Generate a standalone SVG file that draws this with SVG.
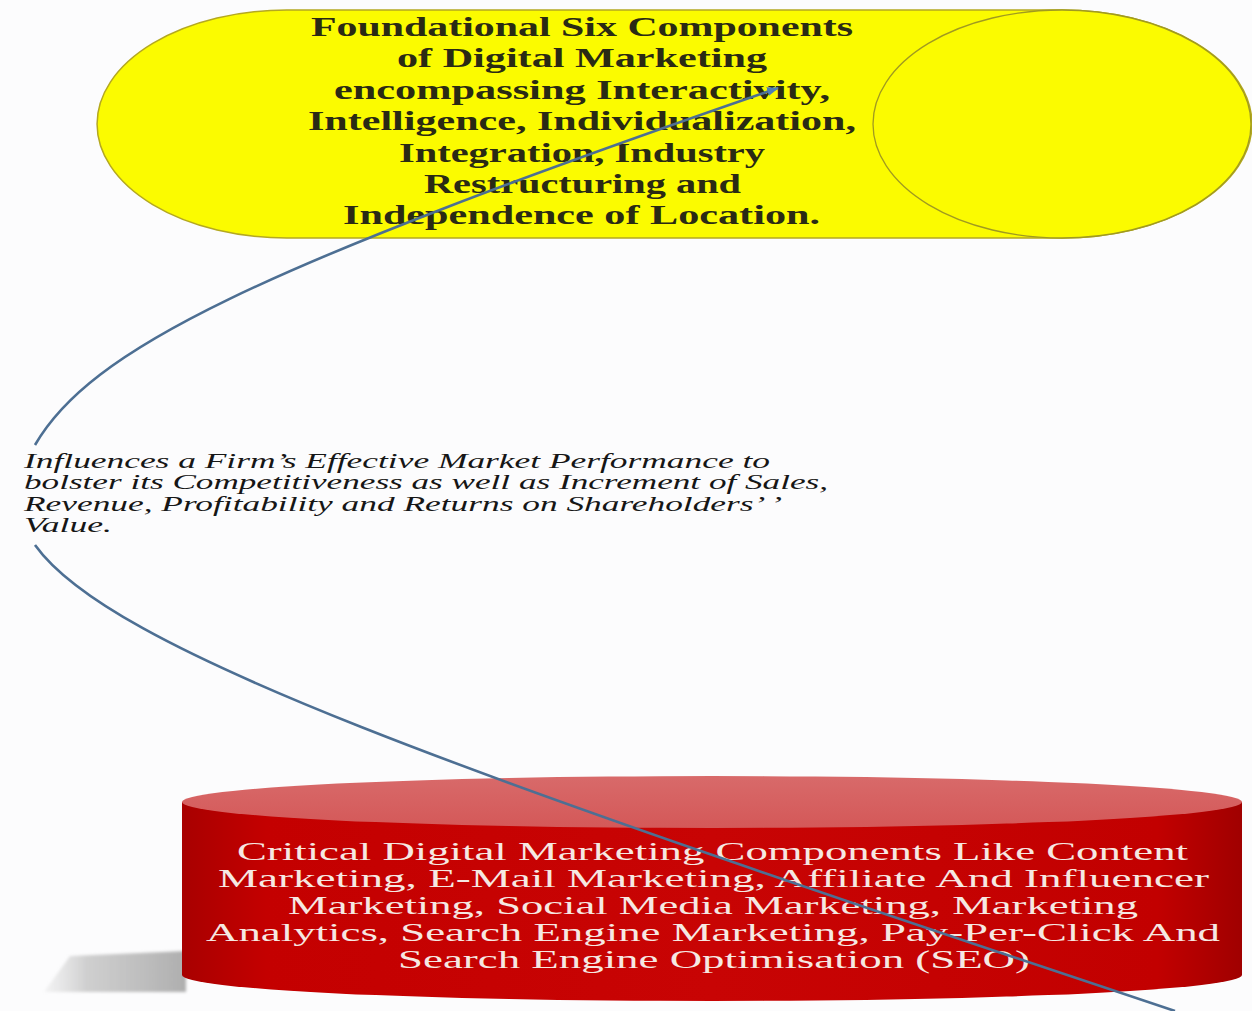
<svg xmlns="http://www.w3.org/2000/svg" width="1252" height="1011" viewBox="0 0 1252 1011">
  <defs>
    <linearGradient id="redBody" x1="0" y1="0" x2="1" y2="0">
      <stop offset="0" stop-color="#a80000"/>
      <stop offset="0.08" stop-color="#c40000"/>
      <stop offset="0.5" stop-color="#c80404"/>
      <stop offset="0.92" stop-color="#c20000"/>
      <stop offset="1" stop-color="#a00000"/>
    </linearGradient>
    <linearGradient id="redTop" x1="0" y1="0" x2="0" y2="1">
      <stop offset="0" stop-color="#d86a6a"/>
      <stop offset="1" stop-color="#d45858"/>
    </linearGradient>
    <linearGradient id="shadow" x1="0" y1="0" x2="1" y2="0">
      <stop offset="0" stop-color="#d0d0d0" stop-opacity="0.2"/>
      <stop offset="0.3" stop-color="#c0c0c0" stop-opacity="0.75"/>
      <stop offset="1" stop-color="#aaaaaa" stop-opacity="0.95"/>
    </linearGradient>
    <filter id="soft" x="-20%" y="-50%" width="140%" height="200%">
      <feGaussianBlur stdDeviation="1.8"/>
    </filter>
    <marker id="arrow" markerWidth="12" markerHeight="9" refX="11" refY="4.5" orient="auto" markerUnits="userSpaceOnUse">
      <path d="M0,0 L12,4.5 L0,9 Z" fill="#4f7fb5"/>
    </marker>
    <style>
      .yellowText { font-family: "Liberation Serif", "Times New Roman", serif; font-size: 28px; font-weight: bold; fill: #2a2a14; }
      .redText { font-family: "Liberation Serif", "Times New Roman", serif; font-size: 26px; fill: #f6e8e2; }
      .label { font-family: "Liberation Serif", "Times New Roman", serif; font-size: 20px; font-style: italic; fill: #161616; }
      .conn { fill: none; stroke: #4d6f93; stroke-width: 2.6; }
    </style>
  </defs>

  <rect x="0" y="0" width="1252" height="1011" fill="#fcfcfd"/>

  <g id="node-foundational">
    <path d="M287,10 L1062,10 A190,114 0 0 1 1062,238 L287,238 A190,114 0 0 1 287,10 Z" fill="#fbfb00" stroke="#b4a820" stroke-width="1.5"/>
    <ellipse cx="1062" cy="124" rx="189" ry="114" fill="#fbfb00" stroke="#a09a20" stroke-width="1.3"/>
    <text class="yellowText" x="311" y="36" textLength="542" lengthAdjust="spacingAndGlyphs">Foundational Six Components</text>
    <text class="yellowText" x="397" y="67" textLength="370" lengthAdjust="spacingAndGlyphs">of Digital Marketing</text>
    <text class="yellowText" x="334" y="99" textLength="496" lengthAdjust="spacingAndGlyphs">encompassing Interactivity,</text>
    <text class="yellowText" x="308" y="130" textLength="548" lengthAdjust="spacingAndGlyphs">Intelligence, Individualization,</text>
    <text class="yellowText" x="399" y="162" textLength="366" lengthAdjust="spacingAndGlyphs">Integration, Industry</text>
    <text class="yellowText" x="424" y="193" textLength="317" lengthAdjust="spacingAndGlyphs">Restructuring and</text>
    <text class="yellowText" x="343" y="224" textLength="477" lengthAdjust="spacingAndGlyphs">Independence of Location.</text>
  </g>

  <g id="node-critical">
    <polygon points="44,992 70,956 186,951 186,992" fill="url(#shadow)" filter="url(#soft)"/>
    <path d="M182,802 L182,975 A530,26 0 0 0 1242,975 L1242,802 Z" fill="url(#redBody)"/>
    <ellipse cx="712" cy="802" rx="530" ry="26" fill="url(#redTop)"/>
    <text class="redText" x="237" y="860" textLength="951" lengthAdjust="spacingAndGlyphs">Critical Digital Marketing Components Like Content</text>
    <text class="redText" x="218" y="887" textLength="991" lengthAdjust="spacingAndGlyphs">Marketing, E-Mail Marketing, Affiliate And Influencer</text>
    <text class="redText" x="288" y="914" textLength="850" lengthAdjust="spacingAndGlyphs">Marketing, Social Media Marketing, Marketing</text>
    <text class="redText" x="206" y="941" textLength="1014" lengthAdjust="spacingAndGlyphs">Analytics, Search Engine Marketing, Pay-Per-Click And</text>
    <text class="redText" x="398" y="968" textLength="632" lengthAdjust="spacingAndGlyphs">Search Engine Optimisation (SEO)</text>
  </g>

  <g id="connectors">
    <path class="conn" d="M1175,1011 C450,770 110,650 35,545"/>
    <path class="conn" d="M35,445 C90,350 250,270 778,88" marker-end="url(#arrow)"/>
  </g>

  <g id="label-influences">
    <text class="label" x="24" y="468" textLength="746" lengthAdjust="spacingAndGlyphs">Influences a Firm’s Effective Market Performance to</text>
    <text class="label" x="24" y="489" textLength="804" lengthAdjust="spacingAndGlyphs">bolster its Competitiveness as well as Increment of Sales,</text>
    <text class="label" x="24" y="511" textLength="758" lengthAdjust="spacingAndGlyphs">Revenue, Profitability and Returns on Shareholders’ ’</text>
    <text class="label" x="24" y="532" textLength="88" lengthAdjust="spacingAndGlyphs">Value.</text>
  </g>
</svg>
